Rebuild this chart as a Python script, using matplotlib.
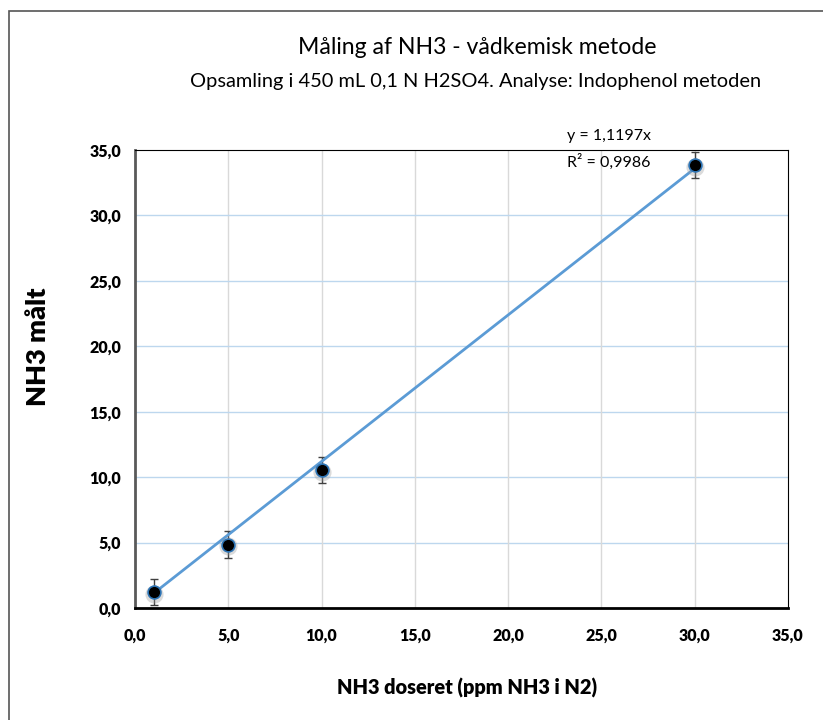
import numpy as np
import matplotlib.pyplot as plt
from matplotlib.patches import Rectangle

plt.rcParams['font.family'] = ['Lato', 'DejaVu Sans']

# data
doseret = [1.0, 5.0, 10.0, 30.0]
maalt = [1.2, 4.85, 10.55, 33.85]
fejl = [1.0, 1.0, 1.0, 1.0]
haeldning = 1.1197
r2_tekst = "R² = 0,9986"
ticks = [0, 5, 10, 15, 20, 25, 30, 35]

fig = plt.figure(figsize=(8.23, 7.2), dpi=100)
ax = fig.add_axes([135/823, 1-608/720, (788-135)/823, (608-150)/720])

# outer chart border (only top/left visible in the crop)
fig.patches.append(Rectangle((9/823, -0.1), 1.2, 1 - 11/720 + 0.1, transform=fig.transFigure,
                             fill=False, edgecolor='#555555', linewidth=1.2))

x_line = np.array([doseret[0], doseret[-1]])
ax.plot(x_line, haeldning*x_line, color='#5B9BD5', linewidth=2, zorder=3)
ax.errorbar(doseret, maalt, yerr=fejl, fmt='none', ecolor='#404040', elinewidth=1, capsize=3, zorder=2)
# soft shadow under markers
ax.scatter(doseret, np.array(maalt)-0.15, s=170, color='#999999', alpha=0.35, zorder=3, linewidths=0)
ax.scatter(doseret, maalt, s=85, color='black', edgecolors='#2E75B6', linewidths=1.2, zorder=4)

ax.set_xlim(0, 35)
ax.set_ylim(0, 35)
ax.set_xticks(ticks)
ax.set_yticks(ticks)
ax.set_xticklabels([f"{t:.1f}".replace('.', ',') for t in ticks], fontweight='heavy', fontsize=11.5)
ax.set_yticklabels([f"{t:.1f}".replace('.', ',') for t in ticks], fontweight='heavy', fontsize=11.5)
ax.tick_params(length=0, pad=14)
ax.tick_params(axis='y', pad=10)

for t in ticks[1:-1]:
    ax.axvline(t, color='#D9D9D9', linewidth=1, zorder=0)
    ax.axhline(t, color='#BDD7EE', linewidth=1, zorder=0)

ax.spines['left'].set_color('#595959')
ax.spines['left'].set_linewidth(2)
ax.spines['bottom'].set_color('black')
ax.spines['bottom'].set_linewidth(2)
ax.spines['top'].set_linewidth(0.8)
ax.spines['right'].set_linewidth(0.8)

ax.text(567/823, 1-136/720, "y = 1,1197x", transform=fig.transFigure, fontsize=11.5, va='center', ha='left')
ax.text(567/823, 1-162/720, r2_tekst, transform=fig.transFigure, fontsize=11.5, va='center', ha='left')

fig.text(477/823, 1-48/720, "Måling af NH3 - vådkemisk metode", fontsize=16.6, ha='center', va='center')
fig.text(476/823, 1-82/720, "Opsamling i 450 mL 0,1 N H2SO4. Analyse: Indophenol metoden", fontsize=14.4,
         ha='center', va='center')
fig.text(38/823, 1-347/720, "NH3 målt", fontsize=19.5, fontweight='heavy', rotation=90, ha='center', va='center')
fig.text(467/823, 1-688/720, "NH3 doseret (ppm NH3 i N2)", fontsize=14.4, fontweight='heavy', ha='center', va='center')

fig.savefig('out.png', dpi=100)
